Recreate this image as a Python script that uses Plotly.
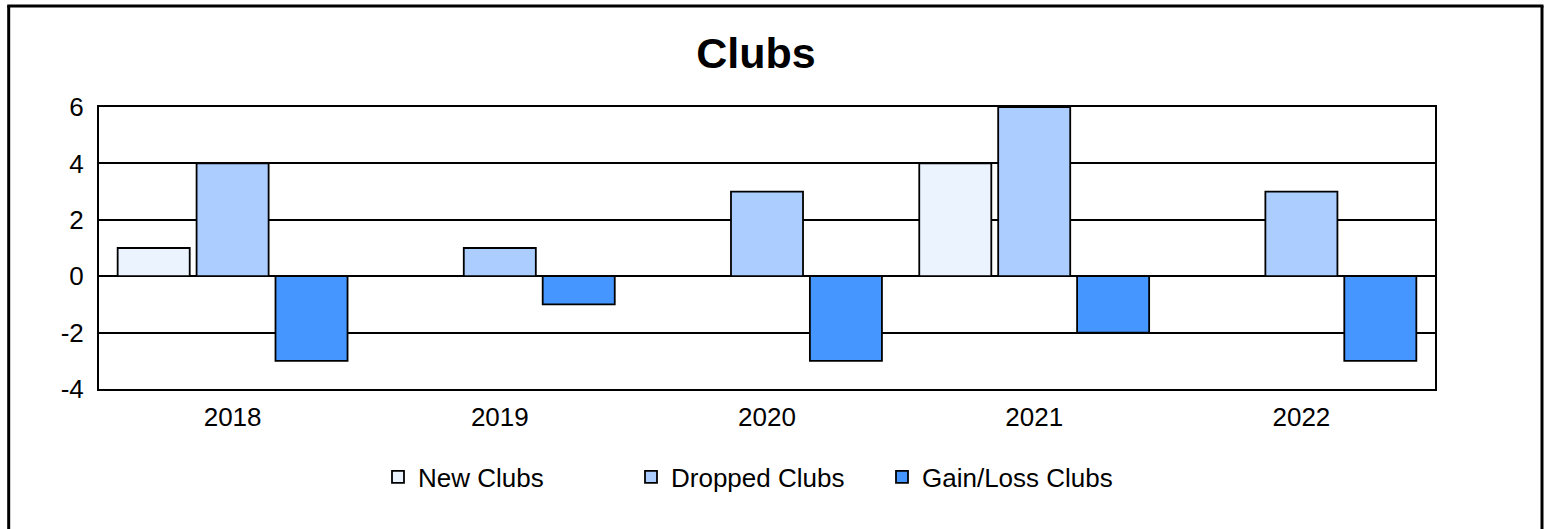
import plotly.graph_objects as go

years = ["2018", "2019", "2020", "2021", "2022"]
new_clubs = [1, 0, 0, 4, 0]
dropped_clubs = [4, 1, 3, 6, 3]
gain_loss_clubs = [-3, -1, -3, -2, -3]

y_tick_values = [-4, -2, 0, 2, 4, 6]
y_tick_labels = ["-4", "-2", "0", "2", "4", "6"]

series_names = ["New Clubs", "Dropped Clubs", "Gain/Loss Clubs"]
series_values = [new_clubs, dropped_clubs, gain_loss_clubs]
series_colors = ["#EBF3FF", "#ABCDFF", "#4696FF"]
legend_ids = ["legend", "legend2", "legend3"]

W, H = 1551, 529
L, R, T, B = 99, 1435, 107, 389
pw, ph = R - L, B - T

def px_x(p):
    return (p - L) / pw

def px_y(p):
    return (B - p) / ph

fig = go.Figure()
for name, vals, col, lg in zip(series_names, series_values, series_colors, legend_ids):
    fig.add_trace(go.Bar(
        x=years, y=vals, name=name, legend=lg,
        marker=dict(color=col, line=dict(color="#000000", width=1.8)),
    ))

font = dict(family="Liberation Sans, Arial, sans-serif", size=26, color="#000000")
legend_common = dict(orientation="h", yanchor="middle", xanchor="left",
                     font=font, bgcolor="rgba(0,0,0,0)", itemwidth=30,
                     y=px_y(477))
fig.update_layout(
    width=W, height=H,
    margin=dict(l=L, r=W - R, t=T, b=H - B, pad=0),
    paper_bgcolor="white", plot_bgcolor="white",
    font=font,
    title=dict(text="<b>Clubs</b>", x=756 / W, xanchor="center",
               y=1 - 53 / H, yanchor="middle",
               font=dict(family="Liberation Sans, Arial, sans-serif", size=43, color="#000000")),
    barmode="group", bargap=0.114, bargroupgap=0.087,
    legend=dict(**legend_common, x=px_x(392 - 14)),
    legend2=dict(**legend_common, x=px_x(645 - 14)),
    legend3=dict(**legend_common, x=px_x(896 - 14)),
    showlegend=True,
)
fig.update_xaxes(showline=True, linecolor="#000000", linewidth=2, mirror=True,
                 showgrid=False, ticks="", ticklabelstandoff=4, tickfont=font)
fig.update_yaxes(range=[-4, 6], tickmode="array", tickvals=y_tick_values, ticktext=y_tick_labels,
                 showline=True, linecolor="#000000",
                 linewidth=2, mirror=True, showgrid=True, gridcolor="#000000", gridwidth=1.8,
                 zeroline=True, zerolinecolor="#000000", zerolinewidth=2,
                 ticks="", ticklabelstandoff=8, tickfont=font)

# outer chart border (open at the bottom edge of the image)
fig.add_shape(type="line", xref="paper", yref="paper",
              x0=px_x(8.7), x1=px_x(8.7), y0=px_y(6), y1=px_y(540),
              line=dict(color="#000000", width=3))
fig.add_shape(type="line", xref="paper", yref="paper",
              x0=px_x(1542), x1=px_x(1542), y0=px_y(6), y1=px_y(540),
              line=dict(color="#000000", width=3))
fig.add_shape(type="line", xref="paper", yref="paper",
              x0=px_x(7.2), x1=px_x(1543.5), y0=px_y(6), y1=px_y(6),
              line=dict(color="#000000", width=3))

fig.write_html("out.html", config={"displayModeBar": False},
               post_script="document.body.style.margin='0';")
